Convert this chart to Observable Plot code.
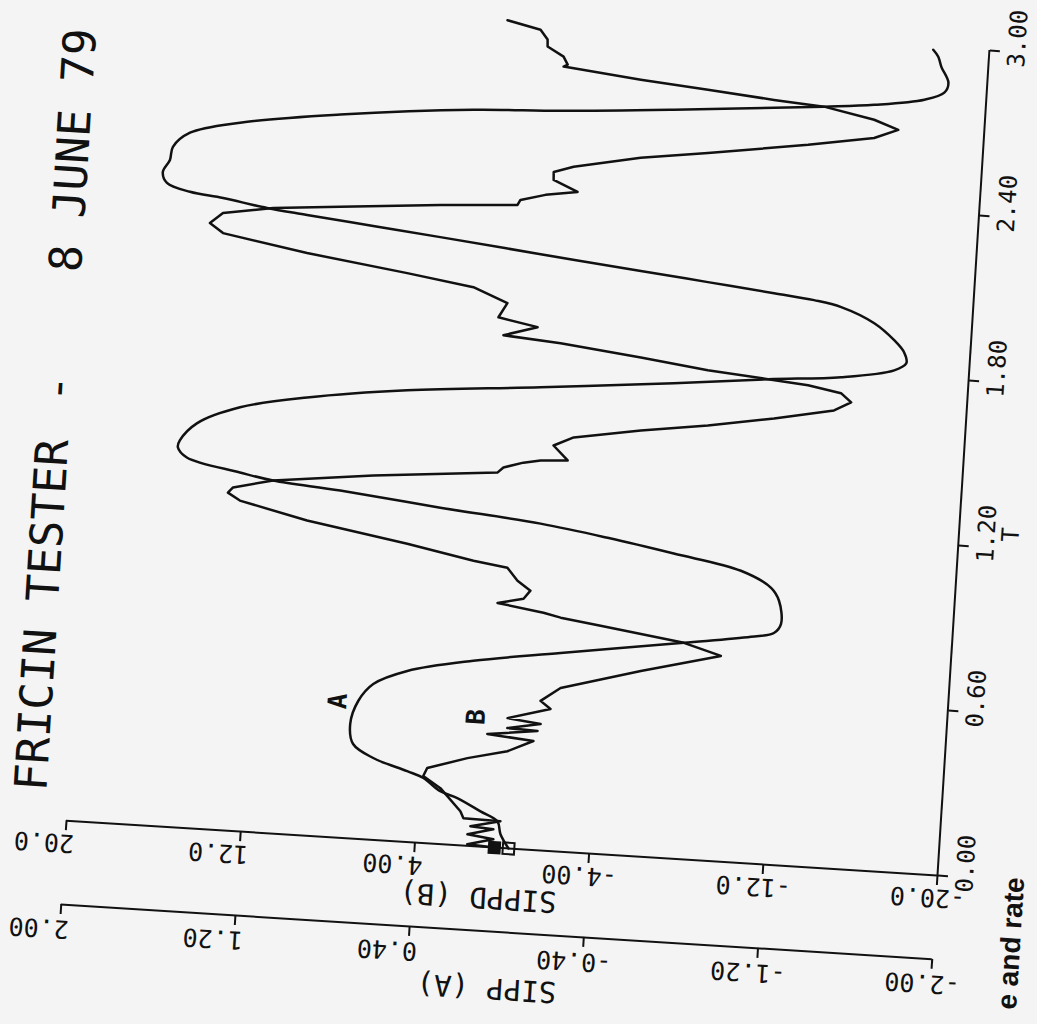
<!DOCTYPE html>
<html>
<head>
<meta charset="utf-8">
<script src="https://cdn.jsdelivr.net/npm/d3@7"></script>
<script src="https://cdn.jsdelivr.net/npm/@observablehq/plot@0.6"></script>
<style>
  html, body { margin: 0; padding: 0; background: #f4f4f4; overflow: hidden; width: 1037px; height: 1024px; }
  #chart svg { transform-origin: 500px 460px; transform: rotate(3.6deg); overflow: visible !important; max-width: none !important; background: transparent !important; }
</style>
</head>
<body>
<div id="chart"></div>
<script>
// ---- data (T in time units) ----
// Curve A : SIPP (A)
const tA = [0.000,0.050,0.096,0.128,0.171,0.192,0.236,0.257,0.297,0.343,0.415,0.500,0.565,0.620,0.672,0.720,0.785,0.822,0.841,0.876,0.959,1.004,1.059,1.106,1.148,1.184,1.219,1.258,1.279,1.301,1.343,1.378,1.403,1.469,1.537,1.588,1.637,1.678,1.723,1.759,1.783,1.820,1.848,1.887,1.929,1.986,2.037,2.056,2.072,2.097,2.122,2.160,2.199,2.224,2.249,2.265,2.291,2.306,2.333,2.372,2.417,2.465,2.520,2.568,2.620,2.668,2.684,2.714,2.759,2.777,2.807,2.837,2.874,2.930,2.966,2.990];
const sippA = [-0.030,0.011,0.029,0.109,0.219,0.299,0.380,0.456,0.615,0.711,0.730,0.700,0.636,0.484,0.185,-0.212,-0.773,-1.078,-1.182,-1.212,-1.196,-1.156,-1.013,-0.701,-0.394,-0.083,0.380,0.843,1.153,1.307,1.554,1.598,1.591,1.518,1.325,1.021,0.565,-0.044,-0.652,-1.082,-1.416,-1.657,-1.710,-1.697,-1.648,-1.552,-1.396,-1.270,-1.085,-0.779,-0.469,-0.006,0.458,0.768,1.074,1.259,1.463,1.616,1.724,1.746,1.717,1.707,1.633,1.407,0.951,0.343,-0.056,-0.574,-1.260,-1.489,-1.717,-1.806,-1.822,-1.785,-1.768,-1.743];

// Curve B : SIPPD (B)
const tB = [0.000,0.006,0.030,0.042,0.066,0.072,0.097,0.099,0.124,0.203,0.243,0.273,0.318,0.352,0.395,0.410,0.432,0.436,0.458,0.472,0.515,0.542,0.593,0.673,0.746,0.785,0.828,0.848,0.862,0.887,0.908,0.939,0.972,1.017,1.034,1.081,1.142,1.199,1.225,1.245,1.279,1.320,1.359,1.379,1.401,1.413,1.419,1.470,1.504,1.544,1.578,1.618,1.661,1.694,1.725,1.746,1.759,1.778,1.809,1.842,1.858,1.895,1.922,1.975,2.025,2.061,2.111,2.164,2.198,2.237,2.266,2.286,2.315,2.333,2.352,2.376,2.394,2.432,2.461,2.484,2.532,2.565,2.617,2.657,2.692,2.723,2.759,2.772,2.794,2.815,2.845,2.853,2.881,2.914,2.939,2.973,3.000];
const sippdB = [0.35,1.60,0.42,1.62,0.45,1.51,0.15,1.85,2.01,2.99,3.81,3.65,1.84,0.03,-1.13,1.00,-1.29,0.10,-1.41,0.12,-1.82,-1.34,-2.22,-5.84,-9.46,-7.73,-3.87,-2.02,-1.22,0.91,-0.27,-0.56,0.06,0.56,2.13,5.21,9.86,12.99,13.56,13.34,11.53,6.96,1.29,1.03,0.13,-0.65,-1.89,-1.20,-2.10,-5.15,-8.20,-11.21,-13.93,-14.69,-14.20,-12.67,-10.82,-8.04,-4.94,-1.23,1.41,-0.13,1.69,1.32,2.92,5.99,10.63,14.53,15.16,14.59,12.31,9.25,4.67,1.14,1.02,-0.11,-1.57,-0.44,-0.42,-1.32,-4.36,-7.42,-11.98,-14.98,-16.06,-14.93,-12.60,-10.29,-7.24,-4.14,-0.57,-0.75,-0.54,0.22,0.24,0.59,2.13];

// Axes
const tTicks = [0, 0.6, 1.2, 1.8, 2.4, 3.0];
const tTickLabels = ["0.00", "0.60", "1.20", "1.80", "2.40", "3.00"];
const bTicks = [20, 12, 4, -4, -12, -20];
const bTickLabels = ["20.0", "12.0", "4.00", "-4.00", "-12.0", "-20.0"];
const aTicks = [2.0, 1.2, 0.4, -0.4, -1.2, -2.0];
const aTickLabels = ["2.00", "1.20", "0.40", "-0.40", "-1.20", "-2.00"];
const scaleAtoB = 10;   // SIPP(A) axis shares the SIPPD(B) positions, 1/10 the units

// curve name tags
const curveNames = ["A", "B"];
const curveNameT = [0.495, 0.469];
const curveNameSIPPD = [7.92, 1.55];

// ---- layout ----
const W = 1037, H = 1024;
const ML = 89.5, MR = 74.8, MT = 20.1, MB = 177.3;
const CX = (ML + W - MR) / 2;
const AGAP = 84;
const mono = "DejaVu Sans Mono";
const ink = "#111";

const aRows = tA.map((t, i) => ({t, v: sippA[i]}));
const bRows = tB.map((t, i) => ({t, v: sippdB[i]}));

const lbl = {fontFamily: mono, fill: ink, lineAnchor: "middle"};

const chart = Plot.plot({
  width: W, height: H,
  marginLeft: ML, marginRight: MR, marginTop: MT, marginBottom: MB,
  style: {background: "transparent", overflow: "visible", maxWidth: "none"},
  x: {domain: [20, -20], axis: null},
  y: {domain: [0, 3], axis: null},
  marks: [
    // axis lines
    Plot.ruleX([-20], {stroke: ink, strokeWidth: 2}),
    Plot.ruleY([0], {stroke: ink, strokeWidth: 2}),
    Plot.ruleY([0], {stroke: ink, strokeWidth: 2, dy: AGAP}),
    // tick marks
    Plot.axisY(tTicks, {anchor: "right", tickSize: 10, tickFormat: () => "", label: null, strokeWidth: 2, stroke: ink}),
    Plot.axisX(bTicks, {anchor: "bottom", tickSize: 10, tickFormat: () => "", label: null, strokeWidth: 2, stroke: ink}),
    Plot.axisX(aTicks.map(d => d * scaleAtoB), {anchor: "bottom", tickSize: 10, tickFormat: () => "", label: null, strokeWidth: 2, stroke: ink, dy: AGAP}),
    // T tick labels
    Plot.text(tTicks, {...lbl, y: d => d, frameAnchor: "right", text: (d, i) => tTickLabels[i], rotate: -90, dx: 28, dy: -13.5, fontSize: 24, textAnchor: "middle"}),
    Plot.text(["T"], {...lbl, y: () => 1.2, frameAnchor: "right", text: d => d, rotate: -90, dx: 52, dy: -14, fontSize: 24, textAnchor: "middle"}),
    // SIPPD (B) tick labels (upside-down)
    Plot.text(bTicks, {...lbl, x: d => d, frameAnchor: "bottom", filter: d => d > 0, text: (d, i) => bTickLabels[i], rotate: 180, textAnchor: "start", dx: 9, dy: 22, fontSize: 25}),
    Plot.text(bTicks, {...lbl, x: d => d, frameAnchor: "bottom", filter: d => d < 0, text: (d, i) => bTickLabels[i], rotate: 180, textAnchor: "start", dx: 29, dy: 22, fontSize: 25}),
    // SIPP (A) tick labels
    Plot.text(aTicks, {...lbl, x: d => d * scaleAtoB, frameAnchor: "bottom", filter: d => d > 0, text: (d, i) => aTickLabels[i], rotate: 180, textAnchor: "start", dx: 9, dy: AGAP + 24, fontSize: 25}),
    Plot.text(aTicks, {...lbl, x: d => d * scaleAtoB, frameAnchor: "bottom", filter: d => d < 0, text: (d, i) => aTickLabels[i], rotate: 180, textAnchor: "start", dx: 29, dy: AGAP + 24, fontSize: 25}),
    // axis titles
    Plot.text(["SIPPD (B)"], {...lbl, frameAnchor: "bottom", text: d => d, rotate: 180, textAnchor: "middle", dx: 505 - CX, dy: 50, fontSize: 29}),
    Plot.text(["SIPP (A)"], {...lbl, frameAnchor: "bottom", text: d => d, rotate: 180, textAnchor: "middle", dx: 519 - CX, dy: AGAP + 56, fontSize: 29}),
    // title
    Plot.text(["FRICIN TESTER"], {...lbl, frameAnchor: "top-left", text: d => d, rotate: -90, textAnchor: "middle", dx: 53 - ML, dy: 643 - MT, fontSize: 45}),
    Plot.text(["-"], {...lbl, frameAnchor: "top-left", text: d => d, rotate: -90, textAnchor: "middle", dx: 54 - ML, dy: 416 - MT, fontSize: 45}),
    Plot.text(["8 JUNE 79"], {...lbl, frameAnchor: "top-left", text: d => d, rotate: -90, textAnchor: "middle", dx: 55 - ML, dy: 177 - MT, fontSize: 45}),
    // caption fragment from the scanned page
    Plot.text(["e and rate"], {fontFamily: "Liberation Sans, Arial, sans-serif", fontWeight: "bold", fill: ink, lineAnchor: "middle", frameAnchor: "top-left", text: d => d, rotate: -90, textAnchor: "start", dx: 1040 - ML, dy: 976 - MT, fontSize: 28}),
    // curves
    Plot.line(aRows, {x: d => d.v * scaleAtoB, y: "t", stroke: ink, strokeWidth: 2.5, curve: "catmull-rom", strokeLinejoin: "round"}),
    Plot.line(bRows, {x: "v", y: "t", stroke: ink, strokeWidth: 2.5, strokeLinejoin: "round"}),
    // start symbols
    Plot.dot([bRows[0]], {x: "v", y: "t", symbol: "square", r: 6.5, fill: ink, stroke: ink, strokeWidth: 1.5}),
    Plot.dot([aRows[0]], {x: d => d.v * scaleAtoB, y: "t", symbol: "square", r: 6.5, fill: "none", stroke: ink, strokeWidth: 2}),
    // curve name tags
    Plot.text(curveNames, {...lbl, x: (d, i) => curveNameSIPPD[i], y: (d, i) => curveNameT[i], text: d => d, rotate: -90, textAnchor: "middle", fontSize: 26, fontWeight: "bold"})
  ]
});
document.getElementById("chart").append(chart);
</script>
</body>
</html>
